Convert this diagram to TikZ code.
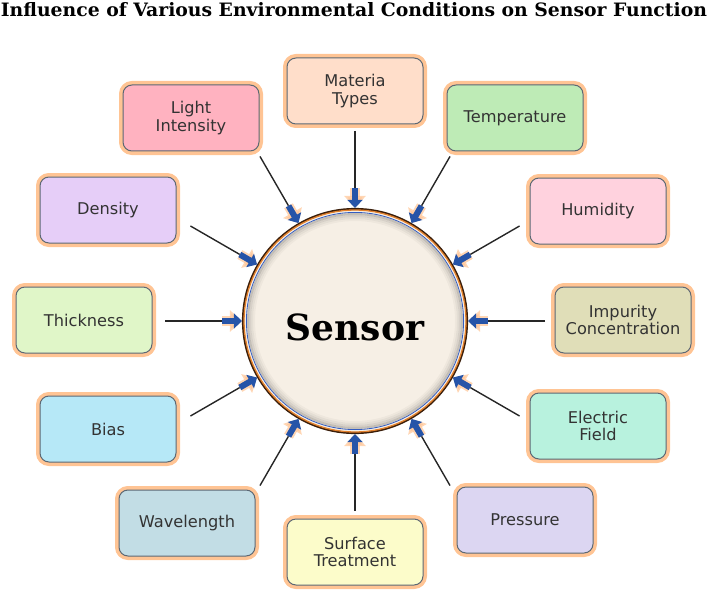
\documentclass[tikz,border=0pt]{standalone}
\usepackage{fontspec}
\usepackage{graphicx}
\usepackage{xcolor}
\usepackage{tikz}
\usetikzlibrary{arrows.meta,calc}

\newfontfamily\boxfont{DejaVu Sans}
\newfontfamily\slabfont{DejaVu Serif}
\newfontfamily\headfont{DejaVu Serif Condensed}

\definecolor{glow}{RGB}{255,196,148}
\definecolor{boxrim}{RGB}{92,104,116}
\definecolor{arrowblue}{RGB}{38,84,168}
\definecolor{rimbrown}{RGB}{58,30,10}
\definecolor{rimorange}{RGB}{226,128,44}
\definecolor{rimblue}{RGB}{52,92,192}
\definecolor{sensorfill}{RGB}{246,239,229}
\definecolor{cPeach}{RGB}{255,222,202}
\definecolor{cPink}{RGB}{255,178,192}
\definecolor{cGreen}{RGB}{190,235,182}
\definecolor{cLilac}{RGB}{230,206,248}
\definecolor{cRose}{RGB}{255,210,222}
\definecolor{cLime}{RGB}{224,246,200}
\definecolor{cKhaki}{RGB}{224,222,184}
\definecolor{cCyan}{RGB}{182,232,247}
\definecolor{cMint}{RGB}{184,242,222}
\definecolor{cSteel}{RGB}{194,221,229}
\definecolor{cLemon}{RGB}{252,252,202}
\definecolor{cLavender}{RGB}{220,214,242}

\tikzset{
  factor/.style={draw=boxrim, line width=1pt, rounded corners=9pt,
    minimum width=136pt, minimum height=66pt, align=center, text=black!80,
    font=\boxfont\fontsize{16.2}{17.5}\selectfont,
    preaction={draw=glow, line width=8pt}},
  feed/.style={draw=black!85, line width=1.4pt},
  pushglow/.style={draw=glow, line width=10pt, -{Triangle[width=21pt,length=12pt]}},
  push/.style={draw=arrowblue, line width=6pt, -{Triangle[width=15pt,length=8pt]}}
}

\begin{document}
\begin{tikzpicture}[x=1pt,y=1pt]
\useasboundingbox (0,0) rectangle (708,-596);

% title
\node[inner sep=0pt] (title) at (354,-10)
  {\resizebox{706pt}{14pt}{\headfont\bfseries Influence of Various Environmental Conditions on Sensor Function}};

% the sensor
\node[circle, minimum size=224pt, inner sep=0pt, fill=sensorfill, draw=rimbrown, line width=2.2pt] (sensor) at (355,-321) {};
\foreach \r/\o in {107/0.2,105/0.12,103/0.07,101/0.03}
  \draw[black, opacity=\o, line width=2pt] (sensor.center) circle (\r pt);
\draw[rimorange, line width=1.3pt] (sensor.center) circle (111pt);
\draw[rimblue, line width=0.8pt] (sensor.center) circle (108.6pt);
\node[font=\slabfont\bfseries\fontsize{36}{36}\selectfont] (sensorname) at (355,-327) {Sensor};

% conditions
\foreach \name/\x/\y/\col/\txt in {
    matter/355/-91/cPeach/{Materia\\Types},
    light/191/-118/cPink/{Light\\Intensity},
    temp/515/-118/cGreen/{Temperature},
    density/108/-210/cLilac/{Density},
    humid/598/-211/cRose/{Humidity},
    thick/84/-320/cLime/{Thickness},
    impurity/623/-320/cKhaki/{Impurity\\Concentration},
    bias/108/-429/cCyan/{Bias},
    efield/598/-426/cMint/{Electric\\Field},
    wave/187/-523/cSteel/{Wavelength},
    surface/355/-552/cLemon/{Surface\\Treatment},
    pressure/525/-520/cLavender/{Pressure}}
  \node[factor, fill=\col] (\name) at (\x,\y) {\txt};

% feed lines and arrows
\foreach \a in {0,30,...,330} {
  \coordinate (tail\a) at ($(sensor.center)+(\a:190pt)$);
  \coordinate (push\a) at ($(sensor.center)+(\a:133pt)$);
  \draw[feed] (tail\a) -- (push\a);
  \draw[pushglow, opacity=0.7] (push\a) -- (sensor.\a);
  \draw[push] (push\a) -- (sensor.\a);
}
\end{tikzpicture}
\end{document}
